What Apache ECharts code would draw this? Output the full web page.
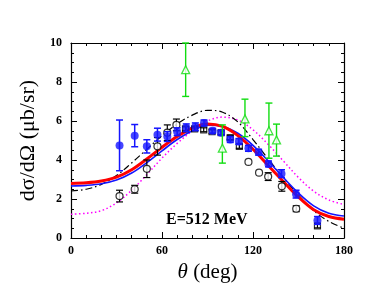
<!DOCTYPE html>
<html><head><meta charset="utf-8">
<script src="https://cdn.jsdelivr.net/npm/echarts@6/dist/echarts.min.js"></script>
<style>html,body{margin:0;padding:0;background:#fff}#c{width:382px;height:295px}</style>
</head><body><div id="c"></div>
<script>
// ---- data ----
const xTicks = [0, 60, 120, 180];
const yTicks = [0, 2, 4, 6, 8, 10];
const energyLabel = 'E=512 MeV';

// theoretical curves, sampled every 10 deg
const curveTheta = [0,10,20,30,40,50,60,70,80,90,100,110,120,130,140,150,160,170,180];
const redCurve   = [2.80,2.83,2.92,3.12,3.50,4.05,4.65,5.20,5.65,5.85,5.72,5.25,4.55,3.72,2.90,2.10,1.45,1.10,0.96];
const blueCurve  = [2.67,2.70,2.78,2.97,3.33,3.87,4.47,5.05,5.50,5.78,5.72,5.37,4.75,3.95,3.10,2.30,1.65,1.27,1.13];
const blackCurve = [2.41,2.50,2.75,3.20,3.85,4.55,5.25,5.85,6.30,6.55,6.45,5.95,5.05,4.05,3.10,2.20,1.40,0.85,0.50];
const magCurve   = [1.22,1.27,1.40,1.80,2.45,3.25,4.10,4.85,5.50,6.00,6.20,6.05,5.55,4.80,3.95,3.10,2.40,1.95,1.72];

// blue filled circles: theta, value, error
const blueTheta = [32,42,50,57,63.5,70,76,82,87.7,93.4,99,105,110.7,117,123.7,130.2,138.8,148.4,162.5];
const blueVal   = [4.75,5.25,4.70,5.30,5.20,5.45,5.65,5.70,5.90,5.50,5.40,5.05,4.95,4.60,4.40,3.80,3.30,2.25,0.90];
const blueErr   = [1.30,0.57,0.34,0.33,0.25,0.20,0.20,0.20,0.15,0.12,0.12,0.15,0.15,0.15,0.15,0.15,0.20,0.20,0.20];

// black open circles
const circTheta = [32,42,50,57,63.5,69.5,117,124,130,139,148.5];
const circVal   = [2.15,2.50,3.55,4.70,5.40,5.80,3.90,3.35,3.15,2.65,1.50];
const circErr   = [0.30,0.20,0.45,0.45,0.40,0.30,0,0,0.20,0.25,0.15];

// black open squares
const sqTheta = [75.5,81.5,87.5,93,99,105,111,162.5];
const sqVal   = [5.60,5.60,5.55,5.45,5.40,5.15,4.70,0.62];
const sqErr   = [0.10,0.10,0.10,0.10,0.10,0.10,0.10,0.10];

// green open triangles: theta, value, low, high
const triTheta = [75.6,99.8,114.7,130.5,135.5];
const triVal   = [8.63,4.61,6.11,5.50,5.03];
const triLow   = [7.26,3.84,5.20,4.09,4.20];
const triHigh  = [10.0,5.80,7.12,6.92,5.84];

// ---- build ----
const zip = (xs, ys) => xs.map((x, i) => [x, ys[i]]);
function errData(xs, ys, es) { return xs.map((x, i) => [x, ys[i] - es[i], ys[i] + es[i]]); }
function errSeries(data, color, z, lw) {
  return {
    type: 'custom', z: z, silent: true,
    renderItem: function (params, api) {
      const x = api.value(0), lo = api.value(1), hi = api.value(2);
      if (hi - lo <= 0) return null;
      const a = api.coord([x, lo]), b = api.coord([x, hi]);
      const w = 3.5;
      const st = { stroke: color, lineWidth: lw };
      return { type: 'group', children: [
        { type: 'line', shape: { x1: a[0], y1: a[1], x2: b[0], y2: b[1] }, style: st },
        { type: 'line', shape: { x1: a[0]-w, y1: a[1], x2: a[0]+w, y2: a[1] }, style: st },
        { type: 'line', shape: { x1: b[0]-w, y1: b[1], x2: b[0]+w, y2: b[1] }, style: st }
      ]};
    },
    encode: { x: 0, y: [1, 2] },
    data: data
  };
}

const labelFont = { color: '#000', fontFamily: 'Liberation Serif', fontWeight: 'bold', fontSize: 12 };
function xAx(pos, show) {
  return {
    type: 'value', position: pos, min: 0, max: 180, interval: 60,
    axisLine: { show: true, onZero: false, lineStyle: { color: '#000', width: 1.2 } },
    axisTick: { show: true, inside: true, length: 6, lineStyle: { color: '#000', width: 1 } },
    minorTick: { show: true, splitNumber: 6, length: 3, lineStyle: { color: '#000', width: 1 } },
    splitLine: { show: false },
    axisLabel: Object.assign({ show: show, margin: 7 }, labelFont),
    name: show ? '{i|θ} (deg)' : '', nameLocation: 'middle', nameGap: 17,
    nameTextStyle: { color: '#000', fontFamily: 'Liberation Serif', fontSize: 21,
      rich: { i: { fontFamily: 'Liberation Serif', fontStyle: 'italic', fontSize: 21, color: '#000' } } }
  };
}
function yAx(pos, show) {
  return {
    type: 'value', position: pos, min: 0, max: 10, interval: 2,
    axisLine: { show: true, onZero: false, lineStyle: { color: '#000', width: 1.2 } },
    axisTick: { show: true, inside: true, length: 6, lineStyle: { color: '#000', width: 1 } },
    minorTick: { show: true, splitNumber: 4, length: 3, lineStyle: { color: '#000', width: 1 } },
    splitLine: { show: false },
    axisLabel: Object.assign({ show: show, margin: 9 }, labelFont),
    name: show ? 'dσ/dΩ (μb/sr)' : '', nameLocation: 'middle', nameGap: 23,
    nameTextStyle: { color: '#000', fontFamily: 'Liberation Serif', fontSize: 22 }
  };
}
function curve(ys, color, width, type, z) {
  return { type: 'line', data: zip(curveTheta, ys), smooth: 0.35, showSymbol: false, symbol: 'none',
    lineStyle: { color: color, width: width, type: type }, z: z, silent: true };
}

const chart = echarts.init(document.getElementById('c'), null, { renderer: 'canvas' });
chart.setOption({
  animation: false,
  grid: { left: 71, right: 38, top: 43, bottom: 57 },
  xAxis: [xAx('bottom', true), xAx('top', false)],
  yAxis: [yAx('left', true), yAx('right', false)],
  graphic: [{ type: 'text', left: 166, top: 212,
    style: { text: energyLabel, font: 'bold 16px "Liberation Serif"', fill: '#000' } }],
  series: [
    curve(magCurve, '#ff00ff', 1.5, [1.5, 2.5], 2),
    curve(blackCurve, '#000', 1.2, [7, 3, 1.5, 3], 2),
    curve(blueCurve, '#1515ff', 1.6, 'solid', 3),
    curve(redCurve, '#ff0000', 3, 'solid', 3),
    errSeries(errData(circTheta, circVal, circErr), '#000', 4, 1.2),
    { type: 'scatter', data: zip(circTheta, circVal), symbol: 'circle', symbolSize: 7, z: 5,
      itemStyle: { color: '#fff', borderColor: '#000', borderWidth: 1.2 } },
    errSeries(errData(sqTheta, sqVal, sqErr), '#000', 4, 1.2),
    { type: 'scatter', data: zip(sqTheta, sqVal), symbol: 'rect', symbolSize: 6, z: 5,
      itemStyle: { color: 'rgba(0,0,0,0)', borderColor: '#000', borderWidth: 1.2 } },
    errSeries(errData(blueTheta, blueVal, blueErr), '#1515ff', 6, 1.5),
    { type: 'scatter', data: zip(blueTheta, blueVal), symbol: 'circle', symbolSize: 8, z: 7,
      itemStyle: { color: '#1515ff' } },
    errSeries(triTheta.map((x, i) => [x, triLow[i], triHigh[i]]), '#11dd11', 8, 1.4),
    { type: 'scatter', data: zip(triTheta, triVal), symbol: 'triangle', symbolSize: 8, z: 9,
      itemStyle: { color: '#fff', borderColor: '#11dd11', borderWidth: 1.3 } }
  ]
});
</script></body></html>
